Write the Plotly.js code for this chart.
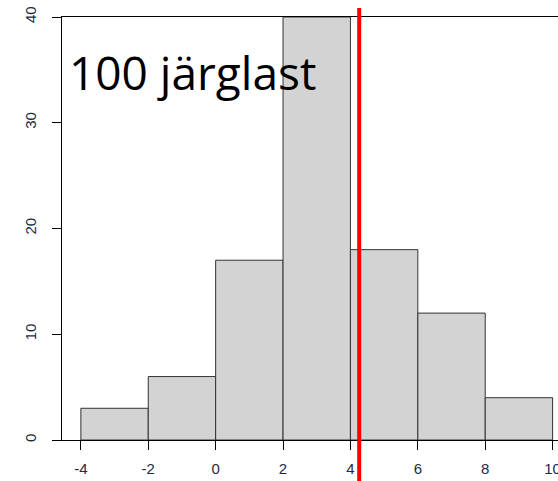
<!DOCTYPE html>
<html>
<head>
<meta charset="utf-8">
<script src="https://cdn.plot.ly/plotly-3.0.1.min.js"></script>
<style>
  html, body { margin: 0; padding: 0; background: #fff; }
  #chart { width: 558px; height: 481px; }
</style>
</head>
<body>
<div id="chart"></div>
<script>
// Histogram of 100 offspring values, binned in steps of 2
const binEdges = [-4, -2, 0, 2, 4, 6, 8, 10];
const counts = [3, 6, 17, 40, 18, 12, 4];
const meanValue = 4.26;
const xTicks = [-4, -2, 0, 2, 4, 6, 8, 10];
const yTicks = [0, 10, 20, 30, 40];
const label = '100 järglast';

const centers = counts.map((_, i) => (binEdges[i] + binEdges[i + 1]) / 2);
const widths = counts.map((_, i) => binEdges[i + 1] - binEdges[i]);

const tickFont = { family: 'Liberation Sans, Arial, sans-serif', size: 15, color: '#1e2a45' };

const trace = {
  type: 'bar',
  x: centers,
  y: counts,
  width: widths,
  marker: { color: '#d3d3d3', line: { color: '#333333', width: 1 } },
  hoverinfo: 'skip'
};

const layout = {
  width: 558,
  height: 481,
  margin: { l: 62, r: 0, t: 17, b: 41 },
  paper_bgcolor: '#ffffff',
  plot_bgcolor: '#ffffff',
  showlegend: false,
  bargap: 0,
  xaxis: {
    range: [-4.56, 10.16],
    tickvals: xTicks,
    ticktext: xTicks.map(String),
    showgrid: false,
    zeroline: false,
    showline: true,
    mirror: true,
    linecolor: '#000',
    linewidth: 1,
    ticks: 'outside',
    ticklen: 9,
    tickcolor: '#000',
    tickfont: tickFont,
    ticklabelstandoff: 6,
    ticklabeloverflow: 'allow'
  },
  yaxis: {
    range: [0, 40],
    tickvals: yTicks,
    ticktext: yTicks.map(String),
    tickangle: -90,
    showgrid: false,
    zeroline: false,
    showline: true,
    linecolor: '#000',
    linewidth: 1,
    ticks: 'outside',
    ticklen: 9,
    tickcolor: '#000',
    tickfont: tickFont,
    ticklabelstandoff: 10,
    ticklabeloverflow: 'allow'
  },
  shapes: [{
    type: 'line',
    xref: 'x', yref: 'paper',
    x0: meanValue, x1: meanValue,
    y0: -0.1, y1: 1.021,
    line: { color: '#ff0000', width: 4 },
    layer: 'above'
  }],
  annotations: [{
    text: label,
    xref: 'paper', yref: 'paper',
    x: 0.01, y: 0.947,
    xanchor: 'left', yanchor: 'top',
    showarrow: false,
    font: { family: 'Open Sans, sans-serif', size: 46, color: '#000' }
  }]
};

Plotly.newPlot('chart', [trace], layout, { staticPlot: true, displayModeBar: false });
</script>
</body>
</html>
